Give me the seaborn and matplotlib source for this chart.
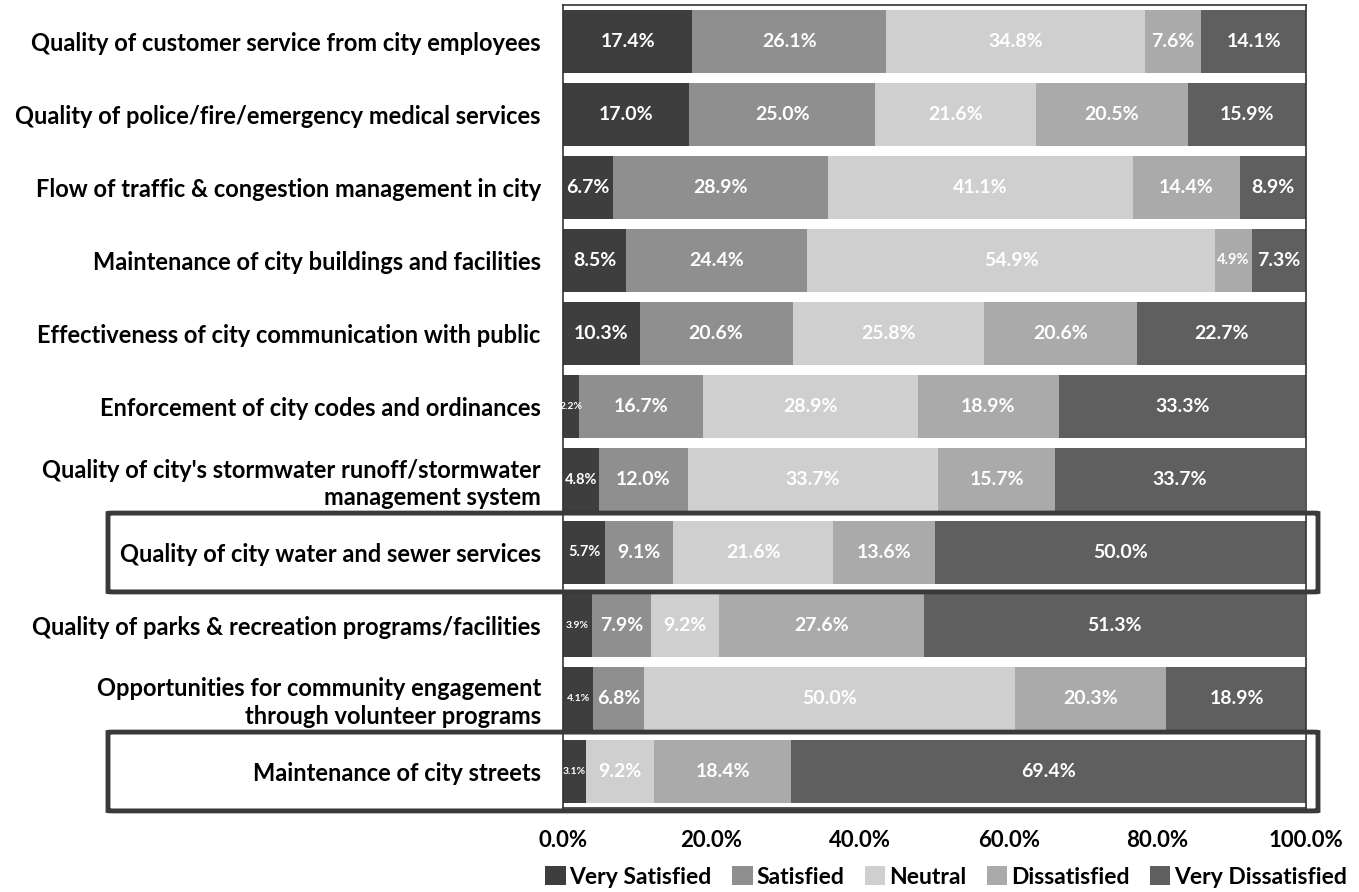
import matplotlib
matplotlib.use("Agg")
import matplotlib.pyplot as plt
import matplotlib.transforms as mtransforms
from matplotlib.patches import FancyBboxPatch, Patch
import numpy as np
import pandas as pd
import seaborn as sns

categories = [
    "Quality of customer service from city employees",
    "Quality of police/fire/emergency medical services",
    "Flow of traffic & congestion management in city",
    "Maintenance of city buildings and facilities",
    "Effectiveness of city communication with public",
    "Enforcement of city codes and ordinances",
    "Quality of city's stormwater runoff/stormwater\nmanagement system",
    "Quality of city water and sewer services",
    "Quality of parks & recreation programs/facilities",
    "Opportunities for community engagement\nthrough volunteer programs",
    "Maintenance of city streets",
]
levels = ["Very Satisfied", "Satisfied", "Neutral", "Dissatisfied", "Very Dissatisfied"]

very_satisfied = [17.4, 17.0, 6.7, 8.5, 10.3, 2.2, 4.8, 5.7, 3.9, 4.1, 3.1]
satisfied = [26.1, 25.0, 28.9, 24.4, 20.6, 16.7, 12.0, 9.1, 7.9, 6.8, 0.0]
neutral = [34.8, 21.6, 41.1, 54.9, 25.8, 28.9, 33.7, 21.6, 9.2, 50.0, 9.2]
dissatisfied = [7.6, 20.5, 14.4, 4.9, 20.6, 18.9, 15.7, 13.6, 27.6, 20.3, 18.4]
very_dissatisfied = [14.1, 15.9, 8.9, 7.3, 22.7, 33.3, 33.7, 50.0, 51.3, 18.9, 69.4]

highlighted = ["Quality of city water and sewer services", "Maintenance of city streets"]

colors = ["#3e3e3e", "#8f8f8f", "#cfcfcf", "#aaaaaa", "#5f5f5f"]

series = [very_satisfied, satisfied, neutral, dissatisfied, very_dissatisfied]
values = pd.DataFrame(dict(zip(levels, series)), index=categories)
cum = values.cumsum(axis=1)

plt.rcParams["font.family"] = ["Lato", "DejaVu Sans"]
plt.rcParams["font.weight"] = "bold"

W, H = 1359, 892
fig = plt.figure(figsize=(W / 100, H / 100), dpi=100)
ax_top, ax_bottom = 5, 808
ax = fig.add_axes([563 / W, 1 - ax_bottom / H, (1306 - 563) / W, (ax_bottom - ax_top) / H])

# Stack by overlaying cumulative totals, widest first
for level, color in reversed(list(zip(levels, colors))):
    d = pd.DataFrame({"category": categories, "value": cum[level].values})
    sns.barplot(data=d, y="category", x="value", order=categories, color=color,
                width=0.87, saturation=1, ax=ax, orient="h", linewidth=0)

# Segment value labels
for i, cat in enumerate(categories):
    left = 0.0
    for level in levels:
        v = values.loc[cat, level]
        if v > 0:
            if v < 4.5:
                fs = 7.5
            elif v < 6:
                fs = 10.5
            else:
                fs = 14
            ax.text(left + v / 2, i, f"{v:.1f}%", ha="center", va="center",
                    color="white", fontsize=fs, fontweight="bold")
        left += v

ax.set_xlim(0, 100)
ax.set_ylim(len(categories) - 0.5, -0.5)
ax.set_xticks(np.arange(0, 101, 20))
ax.set_xticklabels([f"{t:.1f}%" for t in np.arange(0, 101, 20)], fontsize=16, fontweight="bold")
ax.tick_params(axis="x", length=0, pad=16)
ax.tick_params(axis="y", length=0, pad=16, labelsize=17)
for lab in ax.get_yticklabels():
    lab.set_fontweight("bold")
    lab.set_linespacing(1.25)
ax.set_xlabel("")
ax.set_ylabel("")
for s in ax.spines.values():
    s.set_color("#333333")
    s.set_linewidth(1.2)

# Boxes around highlighted rows
trans = mtransforms.blended_transform_factory(fig.transFigure, ax.transData)
for cat in highlighted:
    i = categories.index(cat)
    box = FancyBboxPatch((108 / W, i - 0.54), (1318 - 108) / W, 1.08,
                         boxstyle="round,pad=0,rounding_size=0.004",
                         transform=trans, fill=False, edgecolor="#3a3a3a",
                         linewidth=3.5, clip_on=False, zorder=5)
    fig.add_artist(box)

handles = [Patch(facecolor=c, edgecolor="none", label=l) for l, c in zip(levels, colors)]
fig.legend(handles=handles, loc="center", bbox_to_anchor=(946 / W, 1 - 877 / H),
           ncol=5, frameon=False, handlelength=0.9, handleheight=0.9,
           handletextpad=0.15, columnspacing=0.9, prop={"weight": "bold", "size": 16.5})

fig.savefig("out.png", dpi=100)
